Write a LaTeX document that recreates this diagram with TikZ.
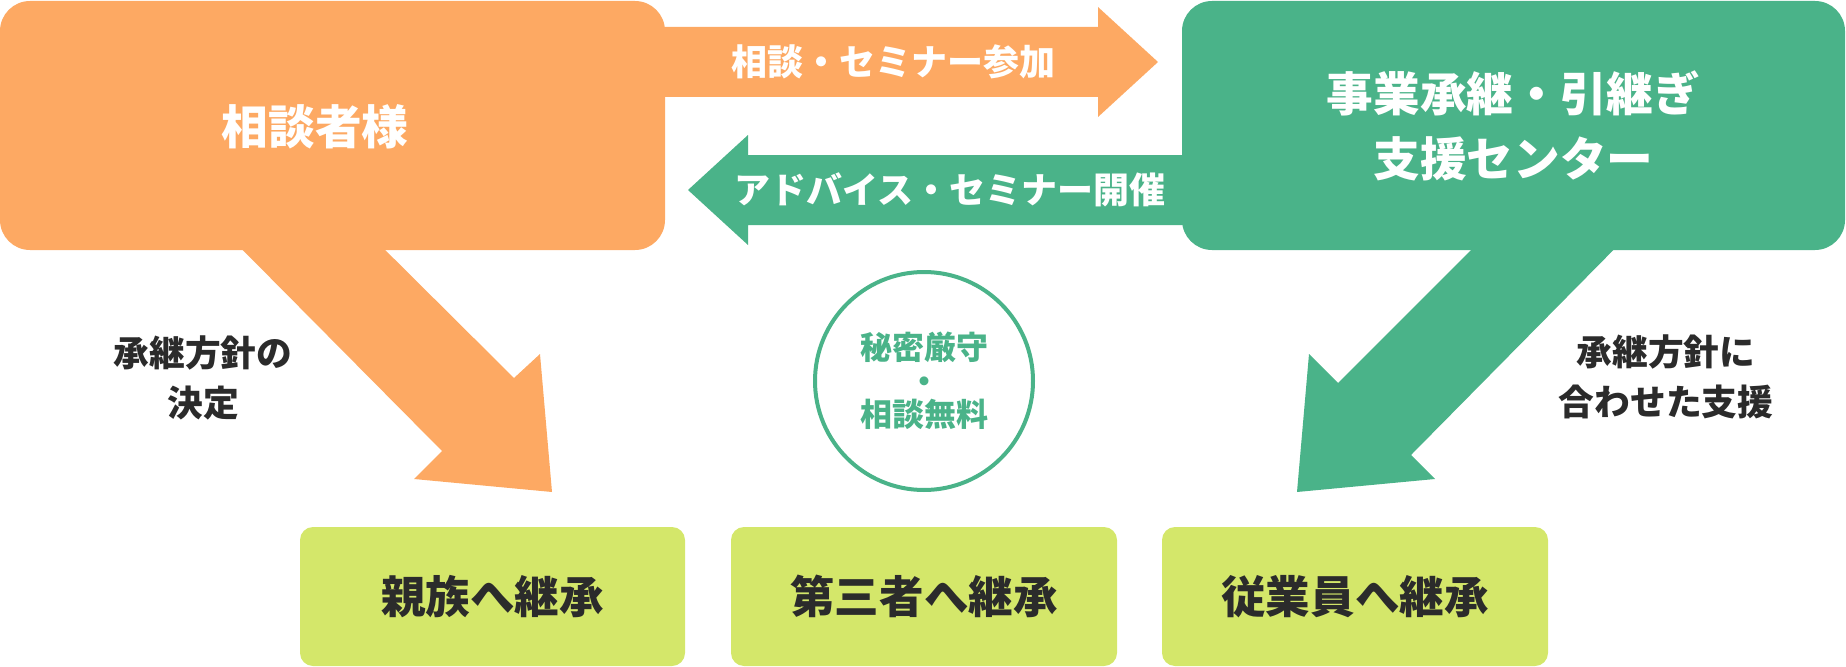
\documentclass[tikz,border=0pt]{standalone}
\usepackage{fontspec}
\setmainfont{Noto Sans CJK JP}
\definecolor{orangeC}{RGB}{253,169,99}
\definecolor{greenC}{RGB}{74,179,137}
\definecolor{limeC}{RGB}{212,231,106}
\definecolor{darkC}{RGB}{43,43,43}
\begin{document}
\begin{tikzpicture}[x=0.75pt,y=-0.75pt,
  topbox/.style={rectangle,rounded corners=22.5pt,inner sep=0pt,minimum height=186.75pt,text=white,font=\fontsize{35}{48.75}\selectfont\bfseries,align=center},
  botbox/.style={rectangle,rounded corners=9.75pt,fill=limeC,inner sep=0pt,minimum height=104.25pt,text=darkC,font=\fontsize{33.4}{40}\selectfont\bfseries},
  arrowlabel/.style={text=white,inner sep=0pt,font=\fontsize{27}{30}\selectfont\bfseries},
  sidelabel/.style={text=darkC,inner sep=0pt,align=center,font=\fontsize{26.8}{38}\selectfont\bfseries},
  sealtext/.style={circle,draw=greenC,line width=3pt,minimum size=163.5pt,inner sep=0pt,text=greenC,align=center,font=\fontsize{24}{25}\selectfont\bfseries}
]
\useasboundingbox (0,0) rectangle (1846,667);

% block arrows
\fill[orangeC] (640,27) -- (1098,27) -- (1098,7) -- (1158,62) -- (1098,117) -- (1098,97) -- (640,97) -- cycle;
\fill[greenC] (1210,155) -- (748,155) -- (748,135) -- (688,190) -- (748,245) -- (748,225) -- (1210,225) -- cycle;
\fill[orangeC] (213,220) -- (442,451) -- (414,479) -- (552,492) -- (540,354) -- (514,378) -- (355,220) -- cycle;
\fill[greenC] (1643,220) -- (1411,455) -- (1435,479) -- (1297,492) -- (1309,354) -- (1338,383) -- (1501,220) -- cycle;

% top boxes
\node[topbox,fill=orangeC,minimum width=498.75pt] (client) at (332.5,125.5) {};
\node[text=white,inner sep=0pt,font=\fontsize{35}{40}\selectfont\bfseries] (clientlabel) at (315,127) {相談者様};
\node[topbox,fill=greenC,minimum width=497.25pt] (center) at (1513.5,125.5) {事業承継・引継ぎ\\支援センター};

% arrow labels
\node[arrowlabel] (toright) at (893,62) {相談・セミナー参加};
\node[arrowlabel] (toleft) at (950,190) {アドバイス・セミナー開催};

% side labels
\node[sidelabel] (leftnote) at (203,378) {承継方針の\\決定};
\node[sidelabel] (rightnote) at (1666,377) {承継方針に\\合わせた支援};

% circle
\node[sealtext] (seal) at (924,381) {秘密厳守\\・\\相談無料};

% bottom boxes
\node[botbox,minimum width=288.75pt] (family) at (492.5,596.5) {親族へ継承};
\node[botbox,minimum width=289.5pt] (third) at (924,596.5) {第三者へ継承};
\node[botbox,minimum width=289.5pt] (staff) at (1355,596.5) {従業員へ継承};
\end{tikzpicture}
\end{document}
